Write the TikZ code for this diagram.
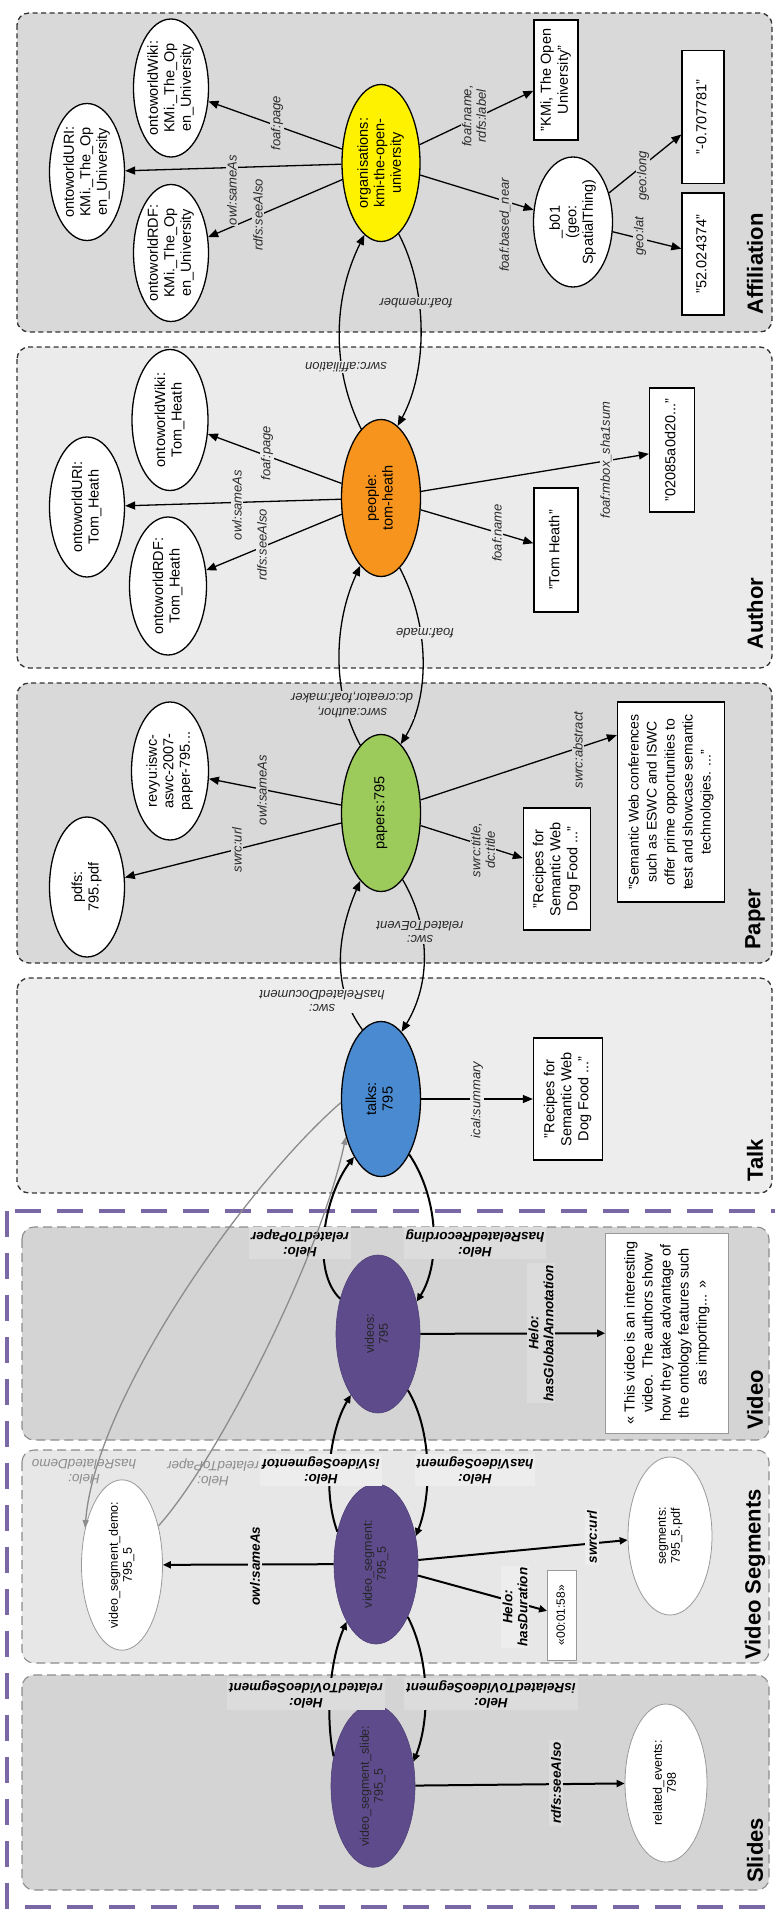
\documentclass[tikz,border=0pt]{standalone}
\usepackage{fontspec}
\setmainfont{Liberation Sans}
\usepackage{graphicx}
\usetikzlibrary{shapes.geometric,arrows.meta}
\definecolor{pAff}{HTML}{D9D9D9}
\definecolor{pAut}{HTML}{EBEBEB}
\definecolor{pPap}{HTML}{D9D9D9}
\definecolor{pTal}{HTML}{EDEDED}
\definecolor{pVid}{HTML}{D4D4D4}
\definecolor{pSeg}{HTML}{E7E7E7}
\definecolor{pSli}{HTML}{D4D4D4}
\definecolor{fVid}{HTML}{DCDCDC}
\definecolor{fSeg}{HTML}{EDEDED}
\definecolor{cYel}{HTML}{FFF200}
\definecolor{cOra}{HTML}{F7941D}
\definecolor{cGre}{HTML}{9CCB5B}
\definecolor{cBlu}{HTML}{4A8AD0}
\definecolor{cPur}{HTML}{5D4B8C}
\definecolor{cOut}{HTML}{7A68A6}
\definecolor{cGry}{HTML}{8C8C8C}
\definecolor{cTxt}{HTML}{2A2A2A}
\newcommand{\RT}[1]{\rotatebox{90}{\begin{tabular}{@{}c@{}}#1\end{tabular}}}
\tikzset{
  panelA/.style={draw=black!80, line width=1.3pt, dash pattern=on 5pt off 3.5pt, rounded corners=12pt},
  panelB/.style={draw=black!45, line width=1.1pt, dash pattern=on 9pt off 5pt, rounded corners=12pt},
  outerbox/.style={draw=cOut, line width=4.5pt, dash pattern=on 26pt off 16pt},
  ptitle/.style={rotate=90, anchor=west, inner sep=0pt, font=\fontsize{22}{24}\selectfont\bfseries},
  wEll/.style={ellipse, draw=black, line width=1.3pt, fill=white, inner sep=-2pt, font=\fontsize{14.5}{16.5}\selectfont},
  nBox/.style={rectangle, draw=black, line width=1.3pt, fill=white, inner sep=0pt, font=\fontsize{14.5}{17}\selectfont},
  pEll/.style={ellipse, fill=cPur, draw=cPur!85!black, line width=0.6pt, inner sep=-3pt, text=black!85, font=\fontsize{12.5}{14}\selectfont},
  gEll/.style={ellipse, fill=white, draw=black!40, line width=0.8pt, inner sep=-3pt, font=\fontsize{12.5}{14}\selectfont},
  gBox/.style={rectangle, fill=white, draw=black!40, line width=0.8pt, inner sep=0pt},
  arr/.style={draw=black, line width=1.3pt, -{Triangle[length=10pt,width=8pt]}},
  varr/.style={draw=black, line width=2pt, -{Triangle[length=8pt,width=7pt]}},
  garr/.style={draw=cGry, line width=1.3pt, -{Triangle[length=8pt,width=6pt]}},
  lbl/.style={rotate=90, align=center, inner sep=1pt, text=cTxt, font=\fontsize{13}{14.5}\selectfont\itshape},
  ilbl/.style={rotate=180, align=center, inner sep=1pt, text=cTxt, font=\fontsize{13}{14.5}\selectfont\itshape},
  vlbl/.style={rotate=90, align=center, inner sep=2pt, text=black, font=\fontsize{13.5}{15}\selectfont\bfseries\itshape},
  vilbl/.style={rotate=180, align=center, inner sep=2pt, text=black, font=\fontsize{13.5}{15}\selectfont\bfseries\itshape},
  glbl/.style={rotate=180, align=center, inner sep=1pt, text=cGry, font=\fontsize{13.5}{15}\selectfont\itshape},
}
\begin{document}
\begin{tikzpicture}[x=1pt,y=-1pt]
\useasboundingbox (0,0) rectangle (775,1910);
\clip (0,0) rectangle (775,1910);
\fill[white] (0,0) rectangle (775,1910);

% ---------- panels ----------
\draw[panelA, fill=pAff] (17,13) rectangle (772,332);
\draw[panelA, fill=pAut] (17,347) rectangle (772,668);
\draw[panelA, fill=pPap] (17,683) rectangle (772,963);
\draw[panelA, fill=pTal] (17,978) rectangle (772,1193);
\draw[outerbox] (7,1211) rectangle (840,1907);
\draw[panelB, fill=pVid] (22,1227) rectangle (769,1440);
\draw[panelB, fill=pSeg] (22,1450) rectangle (769,1663);
\draw[panelB, fill=pSli] (22,1675) rectangle (769,1890);

\node[ptitle] (tAff) at (755,315) {Affiliation};
\node[ptitle] (tAut) at (755,650) {Author};
\node[ptitle] (tPap) at (755,950) {Paper};
\node[ptitle] (tTal) at (755,1182) {Talk};
\node[ptitle] (tVid) at (755,1430) {Video};
\node[ptitle] (tSeg) at (755,1660) {Video Segments};
\node[ptitle] (tSli) at (755,1883) {Slides};

% ---------- Affiliation ----------
\node[wEll, fill=cYel, minimum width=78pt, minimum height=157pt] (org) at (381,163) {\RT{organisations:\\kmi-the-open-\\university}};
\node[wEll, minimum width=75pt, minimum height=138pt] (aWiki) at (171,88) {\RT{ontoworldWiki:\\KMi.\_The\_Op\\en\_University}};
\node[wEll, minimum width=75pt, minimum height=137pt] (aURI) at (87,172) {\RT{ontoworldURI:\\KMi.\_The\_Op\\en\_University}};
\node[wEll, minimum width=75pt, minimum height=137pt] (aRDF) at (171,253) {\RT{ontoworldRDF:\\KMi.\_The\_Op\\en\_University}};
\node[nBox, minimum width=44pt, minimum height=120pt] (aName) at (556,80) {\RT{"KMi, The Open\\University"}};
\node[wEll, minimum width=79pt, minimum height=130pt] (b01) at (573,222) {\RT{\_b01\\(geo:\\SpatialThing)}};
\node[nBox, minimum width=42pt, minimum height=133pt] (aLong) at (703,117) {\RT{"-0.707781"}};
\node[nBox, minimum width=42pt, minimum height=122pt] (aLat) at (703,254) {\RT{"52.024374"}};

% ---------- Author ----------
\node[wEll, fill=cOra, minimum width=79pt, minimum height=157pt] (people) at (381,498) {\RT{people:\\tom-heath}};
\node[wEll, minimum width=76pt, minimum height=141pt] (pWiki) at (170,420) {\RT{ontoworldWiki:\\Tom\_Heath}};
\node[wEll, minimum width=75pt, minimum height=140pt] (pURI) at (87,507) {\RT{ontoworldURI:\\Tom\_Heath}};
\node[wEll, minimum width=77pt, minimum height=138pt] (pRDF) at (168,586) {\RT{ontoworldRDF:\\Tom\_Heath}};
\node[nBox, minimum width=44pt, minimum height=124pt] (pName) at (556,550) {\RT{"Tom Heath"}};
\node[nBox, minimum width=45pt, minimum height=124pt] (pSha) at (672,450) {\RT{"02085a0d20..."}};

% ---------- Paper ----------
\node[wEll, fill=cGre, minimum width=79pt, minimum height=157pt] (papers) at (381,813) {\RT{papers:795}};
\node[wEll, minimum width=75pt, minimum height=140pt] (pdfs) at (87,887) {\RT{pdfs:\\795.pdf}};
\node[wEll, minimum width=77pt, minimum height=138pt] (revyu) at (170,771) {\RT{revyu:iswc-\\aswc-2007-\\paper-795...}};
\node[nBox, minimum width=67pt, minimum height=122pt] (rec1) at (557,869) {\RT{"Recipes for\\Semantic Web\\Dog Food ..."}};
\node[nBox, minimum width=107pt, minimum height=200pt, font=\fontsize{14}{18}\selectfont] (abs) at (671,802) {\RT{"Semantic Web conferences\\such as ESWC and ISWC\\offer prime opportunities to\\test and showcase semantic\\technologies. ..."}};

% ---------- Talk ----------
\node[wEll, fill=cBlu, minimum width=79pt, minimum height=155pt] (talks) at (381,1099) {\RT{talks:\\795}};
\node[nBox, minimum width=69pt, minimum height=122pt] (rec2) at (568,1099) {\RT{"Recipes for\\Semantic Web\\Dog Food ..."}};

% ---------- Video ----------
\node[pEll, minimum width=84pt, minimum height=158pt] (videos) at (378,1334) {\RT{videos:\\795}};
\node[gBox, minimum width=123pt, minimum height=200pt, font=\fontsize{14.5}{18}\selectfont] (annot) at (667,1333) {\RT{« This video is an interesting\\video. The authors show\\how they take advantage of\\the ontology features such\\as importing... »}};

% ---------- Video Segments ----------
\node[pEll, minimum width=84pt, minimum height=160pt] (vs) at (376,1564) {\RT{video\_segment:\\795\_5}};
\node[gEll, minimum width=81pt, minimum height=156pt] (demo) at (122,1565) {\RT{video\_segment\_demo:\\795\_5}};
\node[gEll, minimum width=84pt, minimum height=158pt] (segs) at (670,1536) {\RT{segments:\\795\_5.pdf}};
\node[gBox, minimum width=29pt, minimum height=90pt, font=\fontsize{12}{14}\selectfont] (dur) at (562,1615) {\RT{«00:01:58»}};

% ---------- Slides ----------
\node[pEll, minimum width=84pt, minimum height=158pt] (slide) at (373,1786) {\RT{video\_segment\_slide:\\795\_5}};
\node[gEll, minimum width=82pt, minimum height=158pt] (events) at (666,1783) {\RT{related\_events:\\798}};

% ---------- edges: Affiliation ----------
\draw[arr] (org) -- (aWiki);
\draw[arr] (org) -- (aURI);
\draw[arr] (org) -- (aRDF);
\draw[arr] (org) -- (aName);
\draw[arr] (org) -- (b01);
\draw[arr] (b01) -- (aLong);
\draw[arr] (b01) -- (aLat);
\draw[arr] (people.106) .. controls (332,370) and (332,300) .. (org.257);
\draw[arr] (org.284) .. controls (428,290) and (428,370) .. (people.77);

% ---------- edges: Author ----------
\draw[arr] (people) -- (pWiki);
\draw[arr] (people) -- (pURI);
\draw[arr] (people) -- (pRDF);
\draw[arr] (people) -- (pName);
\draw[arr] (people) -- (pSha);
\draw[arr] (papers.107) .. controls (330,690) and (335,620) .. (people.253);
\draw[arr] (people.285) .. controls (432,630) and (428,700) .. (papers.74);

% ---------- edges: Paper ----------
\draw[arr] (papers) -- (pdfs);
\draw[arr] (papers) -- (revyu);
\draw[arr] (papers) -- (rec1);
\draw[arr] (papers) -- (abs.129);
\draw[arr] (talks.105) .. controls (333,990) and (335,940) .. (papers.253);
\draw[arr] (papers.288) .. controls (432,930) and (430,985) .. (talks.73);

% ---------- edges: Talk ----------
\draw[arr] (talks) -- (rec2);
\draw[varr] (videos.137) .. controls (310,1270) and (325,1195) .. (talks.245);
\draw[varr] (talks.297) .. controls (440,1200) and (440,1265) .. (videos.40);

% ---------- edges: Video ----------
\draw[varr] (videos) -- (annot);
\draw[varr] (vs.140) .. controls (322,1490) and (330,1430) .. (videos.246);
\draw[varr] (videos.298) .. controls (432,1430) and (432,1495) .. (vs.35);

% ---------- edges: Video Segments ----------
\draw[varr] (vs) -- (demo);
\draw[varr] (vs) -- (segs);
\draw[varr] (vs) -- (dur);
\draw[varr] (slide.143) .. controls (325,1715) and (330,1660) .. (vs.243);
\draw[varr] (vs.301) .. controls (430,1660) and (430,1720) .. (slide.31);

% ---------- edges: Slides ----------
\draw[varr] (slide) -- (events);

% ---------- labels ----------
\node[lbl, fill=pAff] (lA1) at (277,123) {foaf:page};
\node[lbl, fill=pAff] (lA2) at (232,190) {owl:sameAs};
\node[lbl, fill=pAff] (lA3) at (258,215) {rdfs:seeAlso};
\node[lbl, fill=pAff] (lA4) at (474,116) {foaf:name,\\rdfs:label};
\node[lbl, fill=pAff] (lA5) at (505,225) {foaf:based\_near};
\node[lbl, fill=pAff] (lA6) at (643,176) {geo:long};
\node[lbl, fill=pAff] (lA7) at (640,236) {geo:lat};
\node[ilbl, fill=pAff] (lA8) at (416,303) {foaf:member};
\node[ilbl, fill=pAut] (lA9) at (346,367) {swrc:affiliation};

\node[lbl, fill=pAut] (lB1) at (267,453) {foaf:page};
\node[lbl, fill=pAut] (lB2) at (237,505) {owl:sameAs};
\node[lbl, fill=pAut] (lB3) at (262,545) {rdfs:seeAlso};
\node[lbl, fill=pAut] (lB4) at (497,533) {foaf:name};
\node[lbl, fill=pAut] (lB5) at (606,460) {foaf:mbox\_sha1sum};
\node[ilbl, fill=pAut] (lB6) at (425,633) {foaf:made};
\node[ilbl, fill=pPap] (lB7) at (352,705) {swrc:author,\\dc:creator,foaf:maker};

\node[lbl, fill=pPap] (lC1) at (237,850) {swrc:url};
\node[lbl, fill=pPap] (lC2) at (262,790) {owl:sameAs};
\node[lbl, fill=pPap] (lC3) at (483,850) {swrc:title,\\dc:title};
\node[lbl, fill=pPap] (lC4) at (578,750) {swrc:abstract};
\node[ilbl, fill=pPap] (lC5) at (420,932) {swc:\\relatedToEvent};
\node[ilbl, fill=pTal] (lC6) at (322,1001) {swc:\\hasRelatedDocument};

\node[lbl, fill=pTal] (lD1) at (477,1100) {ical:summary};

\node[vilbl, fill=fVid] (lE1) at (300,1243) {Helo:\\relatedToPaper};
\node[vilbl, fill=fVid] (lE2) at (475,1243) {Helo:\\hasRelatedRecording};
\node[vlbl, fill=fVid] (lE3) at (541,1333) {Helo:\\hasGlobalAnnotation};

\node[vilbl, fill=fSeg] (lF1) at (321,1470) {Helo:\\isVideoSegmentof};
\node[vilbl, fill=fSeg] (lF2) at (475,1470) {Helo:\\hasVideoSegment};
\node[glbl] (lF3) at (84,1472) {Helo:\\hasRelatedDemo};
\node[glbl] (lF4) at (213,1472) {Helo:\\relatedToPaper};
\node[vlbl, fill=pSeg] (lF5) at (255,1566) {owl:sameAs};
\node[vlbl, fill=fSeg] (lF6) at (592,1537) {swrc:url};
\node[vlbl, fill=fSeg] (lF7) at (515,1607) {Helo:\\hasDuration};

\node[vilbl, fill=fVid] (lG1) at (306,1694) {Helo:\\relatedToVideoSegment};
\node[vilbl, fill=fVid] (lG2) at (491,1694) {Helo:\\isRelatedToVideoSegment};
\node[vlbl, fill=fVid] (lG3) at (556,1783) {rdfs:seeAlso};

% ---------- grey demo links ----------
\draw[garr] (talks.185) .. controls (243,1188) and (95,1400) .. (demo.135);
\draw[garr] (demo.47) .. controls (218,1460) and (321,1255) .. (talks.227);
\end{tikzpicture}
\end{document}
